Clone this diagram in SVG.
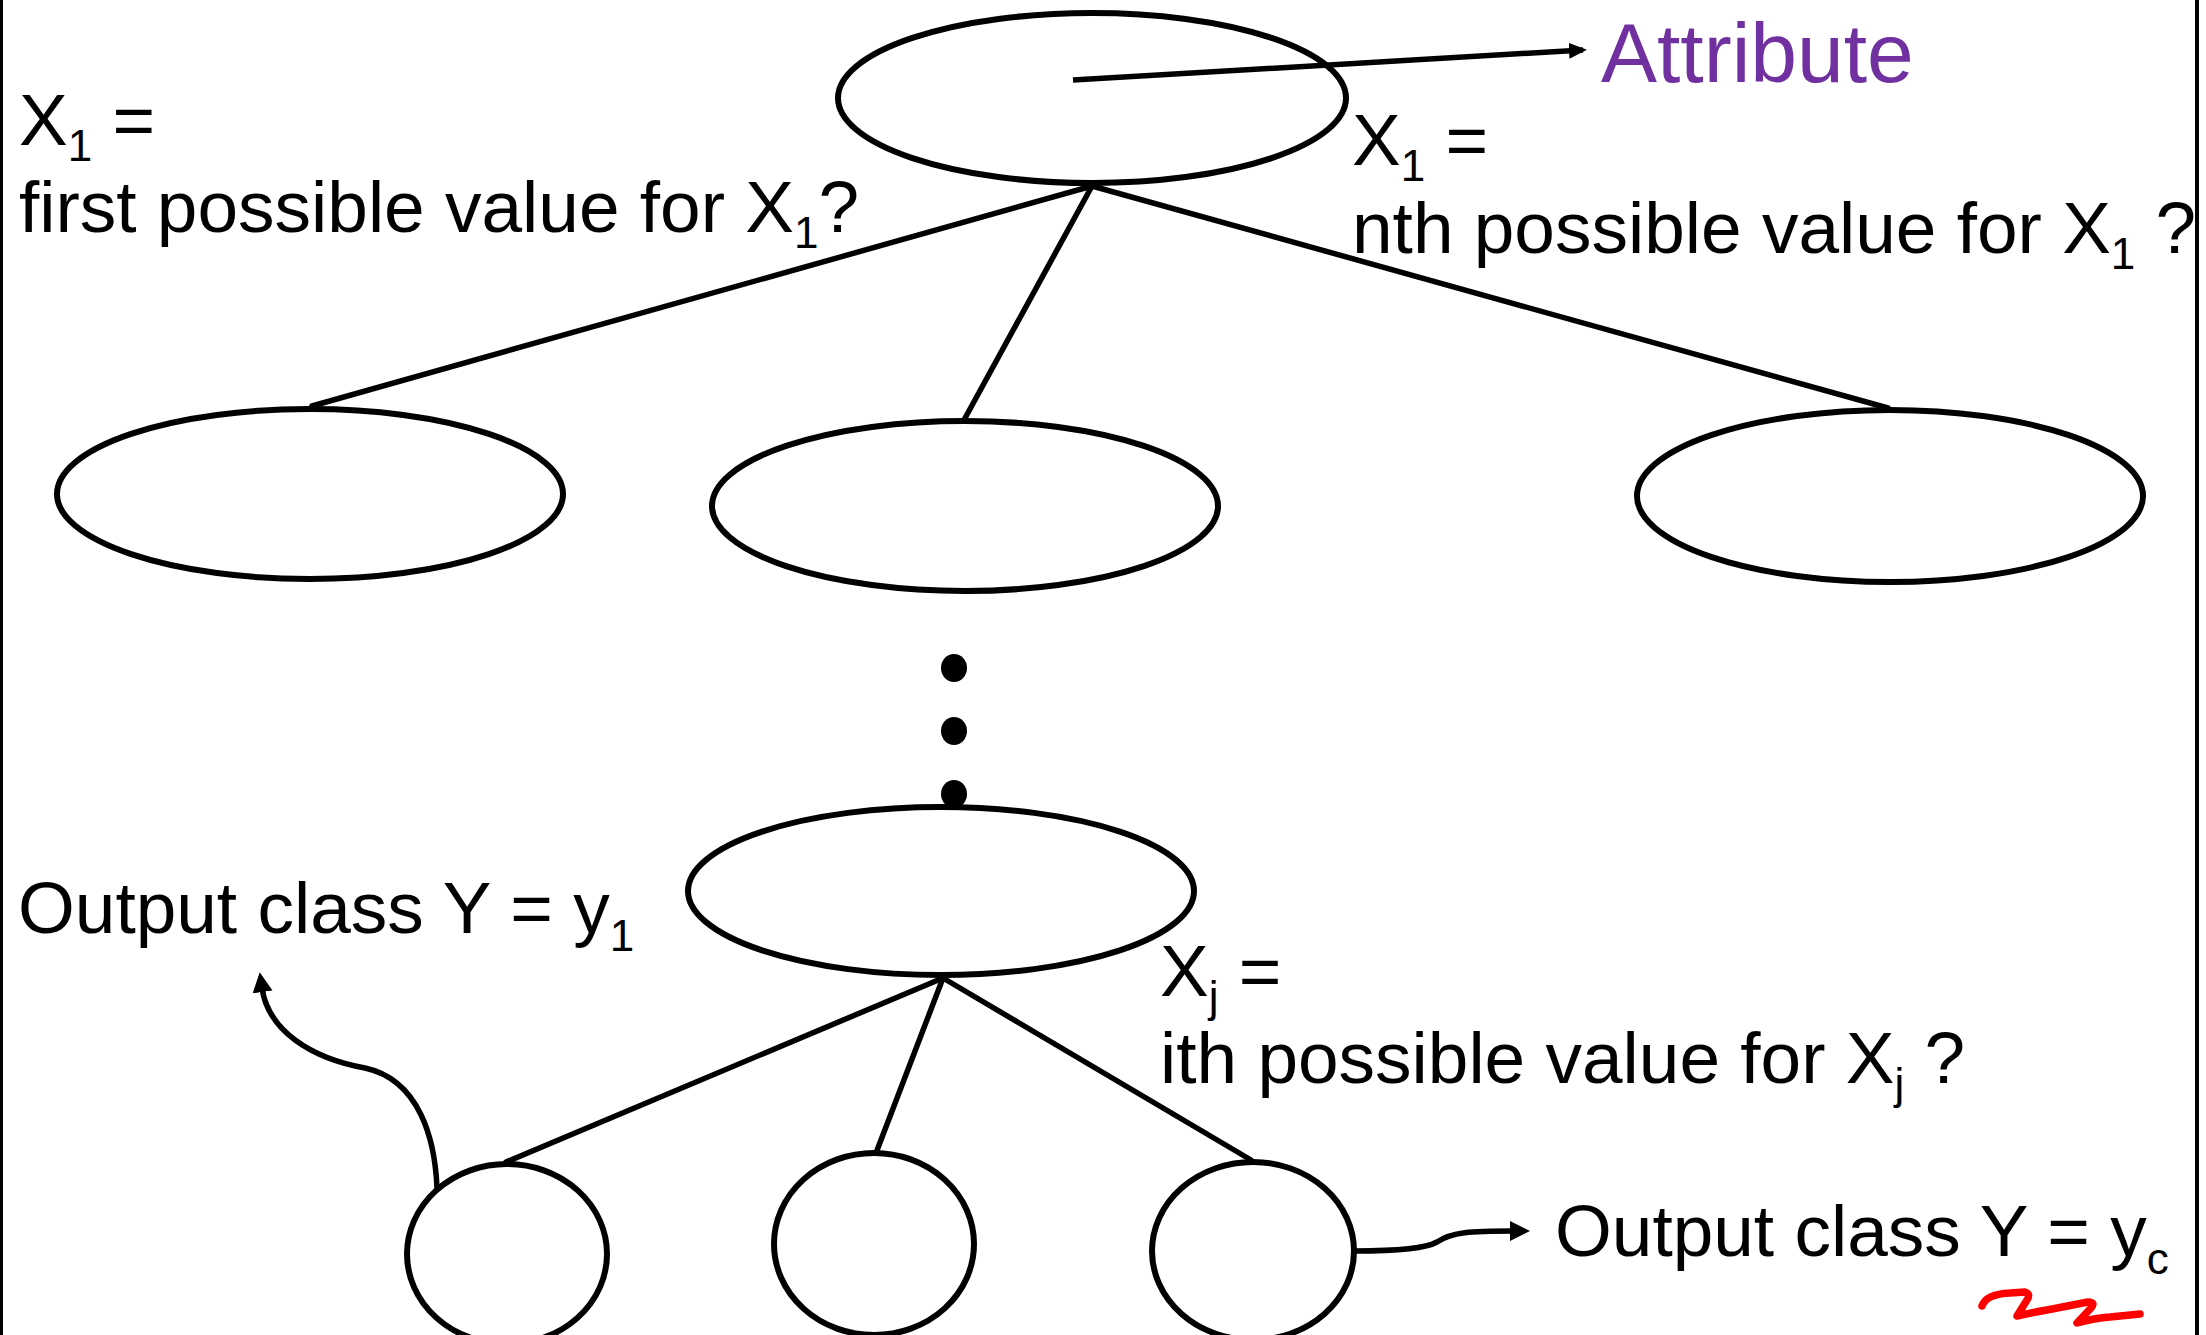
<svg xmlns="http://www.w3.org/2000/svg" width="2206" height="1335" viewBox="0 0 2206 1335">
<style>
  .node { fill: none; stroke: #000; stroke-width: 6; }
  .edge { fill: none; stroke: #000; stroke-width: 5.5; stroke-linecap: round; }
  .arrow { fill: none; stroke: #000; stroke-width: 5.5; }
  .txt { font-family: "Liberation Sans", Arial, Helvetica, sans-serif; font-size: 73px; fill: #000; }
  .sub { font-size: 44px; }
  .attr { font-family: "Liberation Sans", Arial, Helvetica, sans-serif; font-size: 84px; fill: #7030A0; }
  .dot { fill: #000; }
  .border { stroke: #000; }
</style>
<defs>
  <marker id="ahSmall" markerUnits="userSpaceOnUse" markerWidth="20" markerHeight="18" refX="14" refY="8" orient="auto">
    <path d="M0,0 L18,8 L0,16 z" fill="#000"/>
  </marker>
  <marker id="ahBig" markerUnits="userSpaceOnUse" markerWidth="22" markerHeight="22" refX="4" refY="10" orient="auto">
    <path d="M0,0 L20,10 L0,20 z" fill="#000"/>
  </marker>
</defs>
<rect x="0" y="0" width="2206" height="1335" fill="#fff"/>
<line class="border" x1="1.5" y1="0" x2="1.5" y2="1335" stroke-width="3"/>
<line class="border" x1="2197" y1="0" x2="2197" y2="1335" stroke-width="4"/>

<g id="connectors">
  <line class="edge" x1="1092" y1="186" x2="312" y2="406"/>
  <line class="edge" x1="1092" y1="186" x2="964" y2="420"/>
  <line class="edge" x1="1092" y1="186" x2="1888" y2="408"/>
  <line class="edge" x1="943" y1="978" x2="506" y2="1162"/>
  <line class="edge" x1="943" y1="978" x2="876" y2="1153"/>
  <line class="edge" x1="943" y1="978" x2="1251" y2="1160"/>
  <path class="arrow" stroke-width="4.5" d="M1073,80 L1583,50" marker-end="url(#ahSmall)"/>
  <path class="arrow" d="M437,1188 C435,1140 420,1080 365,1068 C310,1058 268,1030 262,988" marker-end="url(#ahBig)"/>
  <path class="arrow" d="M1355,1251 C1395,1251 1425,1249 1437,1242 C1452,1232 1470,1231 1514,1231" marker-end="url(#ahBig)"/>
</g>

<g id="root"><ellipse class="node" cx="1092" cy="98" rx="254" ry="85"/></g>
<g id="n1"><ellipse class="node" cx="310" cy="494" rx="253" ry="85"/></g>
<g id="n2"><ellipse class="node" cx="965" cy="506" rx="253" ry="85"/></g>
<g id="n3"><ellipse class="node" cx="1890" cy="496" rx="253" ry="86"/></g>
<g id="dots">
  <ellipse class="dot" cx="954" cy="668" rx="13" ry="14"/>
  <ellipse class="dot" cx="954" cy="731" rx="13" ry="14"/>
  <ellipse class="dot" cx="954" cy="794" rx="13" ry="14"/>
</g>
<g id="nj"><ellipse class="node" cx="941" cy="891" rx="253" ry="84"/></g>
<g id="leaf1"><ellipse class="node" cx="507" cy="1254" rx="100" ry="90"/></g>
<g id="leaf2"><ellipse class="node" cx="874" cy="1244" rx="100" ry="91"/></g>
<g id="leaf3"><ellipse class="node" cx="1253" cy="1251" rx="101" ry="89"/></g>

<g id="labels">
  <text class="attr" x="1601" y="82">Attribute</text>
  <text class="txt" x="19" y="145">X<tspan class="sub" dy="16">1</tspan><tspan dy="-16"> =</tspan></text>
  <text class="txt" x="19" y="232">first possible value for X<tspan class="sub" dy="16">1</tspan><tspan dy="-16">?</tspan></text>
  <text class="txt" x="1352" y="165">X<tspan class="sub" dy="16">1</tspan><tspan dy="-16"> =</tspan></text>
  <text class="txt" x="1352" y="253">nth possible value for X<tspan class="sub" dy="16">1</tspan><tspan dy="-16"> ?</tspan></text>
  <text class="txt" x="18" y="933">Output class Y = y<tspan class="sub" dy="18">1</tspan></text>
  <text class="txt" x="1160" y="996">X<tspan class="sub" dy="16">j</tspan><tspan dy="-16"> =</tspan></text>
  <text class="txt" x="1160" y="1083">ith possible value for X<tspan class="sub" dy="16">j</tspan><tspan dy="-16"> ?</tspan></text>
  <text class="txt" x="1555" y="1256">Output class Y = y<tspan class="sub" dy="18">c</tspan></text>
</g>

<g id="annotation">
  <path d="M1982,1306 Q1986,1294 2010,1293 L2025,1292 Q2031,1294 2027,1300 L2017,1316 Q2030,1313 2047,1310 L2088,1302 Q2096,1302 2091,1308 L2077,1323 Q2095,1318 2110,1317 L2140,1314" fill="none" stroke="#FF0000" stroke-width="7.5" stroke-linecap="round" stroke-linejoin="round"/>
</g>
</svg>
